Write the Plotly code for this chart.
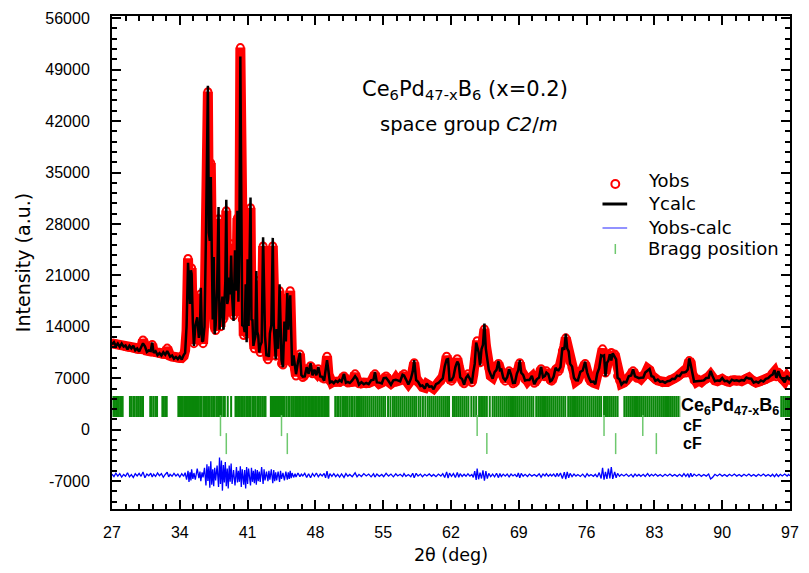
import plotly.graph_objects as go

# ---------------------------------------------------------------------------
# Powder pattern: 2-theta grid, observed intensity and refinement residual
# (Yobs - Ycalc); grouped in rows of ten.
# ---------------------------------------------------------------------------
two_theta = [
    27.0, 27.2, 27.4, 27.6, 27.8, 28.0, 28.2, 28.4, 28.6, 28.8,
    29.0, 29.2, 29.4, 29.6, 29.8, 30.0, 30.2, 30.4, 30.6, 30.8,
    31.0, 31.15, 31.3, 31.5, 31.7, 31.9, 32.1, 32.3, 32.5, 32.7,
    32.85, 33.0, 33.2, 33.4, 33.6, 33.8, 34.0, 34.2, 34.4, 34.55,
    34.7,
    34.85, 34.95, 35.05, 35.15, 35.22, 35.35, 35.46, 35.6, 35.8, 35.97,
    36.08, 36.17, 36.3, 36.4, 36.55, 36.7, 36.8, 36.9, 37.0, 37.1,
    37.2, 37.3, 37.4, 37.5, 37.6, 37.7, 37.85, 38.0, 38.1, 38.2,
    38.3, 38.4, 38.5, 38.6, 38.7, 38.8, 38.9, 39.0, 39.1, 39.2,
    39.3, 39.4, 39.55, 39.7, 39.85, 39.95, 40.05, 40.15, 40.25, 40.35,
    40.45, 40.6, 40.7, 40.8, 40.9, 41.0, 41.1, 41.3, 41.4, 41.5,
    41.6, 41.7, 41.8, 41.9, 42.0, 42.1, 42.2, 42.3, 42.45, 42.6,
    42.7, 42.8, 42.95, 43.1, 43.2, 43.3, 43.45, 43.6, 43.7, 43.8,
    43.9, 44.0, 44.15, 44.3, 44.4, 44.5, 44.65, 44.8, 44.95, 45.1,
    45.2, 45.3, 45.4, 45.5, 45.6, 45.75, 45.9, 46.0, 46.2, 46.4,
    46.55, 46.7,
    46.9, 47.1, 47.3, 47.5, 47.7, 47.9, 48.1, 48.3, 48.5, 48.7,
    48.9, 49.05, 49.2, 49.35, 49.5, 49.7, 49.9, 50.1, 50.3, 50.5,
    50.7, 50.95, 51.15, 51.35, 51.55, 51.8, 52.1, 52.3, 52.5, 52.75,
    53.0, 53.25, 53.5, 53.75, 54.0, 54.15, 54.35, 54.6, 54.85, 55.05,
    55.3, 55.55, 55.8, 56.05, 56.3, 56.5, 56.75, 57.0, 57.15, 57.35,
    57.6, 57.85, 58.05, 58.2, 58.4, 58.6, 58.85, 59.05, 59.3, 59.5,
    59.75, 60.0, 60.2, 60.45, 60.7, 60.95, 61.15, 61.35, 61.55, 61.7,
    61.85, 62.05, 62.25, 62.45, 62.65, 62.8, 62.95, 63.15, 63.35, 63.55,
    63.75, 63.95, 64.15, 64.3, 64.45, 64.6, 64.7, 64.85, 65.0, 65.15,
    65.3, 65.45, 65.6, 65.75, 65.9, 66.1, 66.3, 66.5, 66.7, 66.9,
    67.05, 67.2, 67.4, 67.6, 67.8, 68.0, 68.2, 68.4, 68.6, 68.8,
    68.95, 69.1, 69.25, 69.45, 69.65, 69.9, 70.1, 70.35, 70.6, 70.85,
    71.1, 71.3, 71.5, 71.7, 71.85, 72.05, 72.25, 72.4, 72.6, 72.8,
    72.95, 73.1, 73.3, 73.5, 73.7, 73.85, 74.0, 74.15, 74.3, 74.5,
    74.7, 74.9, 75.1, 75.35, 75.6, 75.85, 76.05, 76.25, 76.45, 76.7,
    76.9, 77.1, 77.3, 77.5, 77.65, 77.8, 77.95, 78.1, 78.25, 78.4,
    78.55, 78.7, 78.9, 79.05, 79.2, 79.4, 79.6, 79.85, 80.1, 80.35,
    80.6, 80.8, 81.0, 81.2, 81.4, 81.6, 81.85, 82.05, 82.3, 82.5,
    82.7, 82.9, 83.1, 83.35, 83.6, 83.85, 84.1, 84.35, 84.6, 84.85,
    85.1, 85.35, 85.6, 85.85, 86.05, 86.25, 86.45, 86.6, 86.75, 86.9,
    87.1, 87.35, 87.6, 87.85, 88.1, 88.35, 88.6, 88.8, 89.0, 89.25,
    89.5, 89.75, 90.0, 90.25, 90.5, 90.75, 91.0, 91.25, 91.5, 91.75,
    92.0, 92.25, 92.5, 92.75, 93.0, 93.25, 93.5, 93.75, 94.0, 94.25,
    94.5, 94.75, 95.0, 95.2, 95.4, 95.6, 95.8, 96.0, 96.2, 96.45,
    96.7, 96.85, 97.0,
]

y_obs = [
    11750, 11700, 11650, 11600, 11500, 11450, 11400, 11300, 11250, 11200,
    11150, 11100, 11000, 10950, 10900, 11000, 12200, 11000, 10750, 10700,
    11000, 11600, 10600, 10500, 10450, 10350, 10300, 10250, 10300, 11100,
    10150, 10050, 9950, 9900, 9800, 9750, 9700, 9750, 10000, 10800,
    13500,
    23300, 19000, 17500, 21000, 22000, 14000, 11700, 13500, 16200, 12100,
    14000, 18500, 12500, 11700, 15000, 25000, 38000, 46000, 28000, 24000,
    36300, 18000, 15800, 22000, 14000, 13500, 20500, 28700, 16000, 14000,
    19000, 16000, 15000, 17000, 22000, 29800, 18000, 16000, 22000, 17500,
    25300, 17000, 15500, 23000, 20000, 28800, 18000, 24000, 52000, 30000,
    15000, 12800, 14000, 18000, 13000, 22000, 15000, 30200, 16000, 14000,
    12000, 11000, 13500, 20300, 14000, 12000, 11000, 10500, 13000, 25000,
    18000, 12000, 10500, 9500, 10500, 12500, 15000, 25000, 15000, 11000,
    10000, 13000, 11500, 18900, 13500, 9000, 8800, 14000, 12500, 18000,
    14000, 16500, 18900, 13000, 9000, 9800, 8200, 7300, 9500, 10300,
    7600, 7100,
    7500, 8200, 7800, 8700, 7600, 8000, 7700, 8300, 7400, 7100,
    6900, 8000, 10000, 7500, 6600, 6400, 6550, 6450, 6600, 6500,
    6700, 7300, 6600, 6350, 6450, 6500, 7600, 6700, 6250, 6300,
    6400, 6250, 6350, 6500, 7000, 7600, 6600, 6250, 6400, 6800,
    7300, 6500, 6250, 6500, 7000, 6600, 6700, 7300, 7600, 6700,
    6250, 6700, 8200, 9100, 7000, 6400, 6100, 5800, 5700, 6200,
    6000, 5750, 5600, 6000, 6500, 6600, 7200, 8300, 10000, 9200,
    7000, 6600, 7400, 8200, 9650, 8600, 7300, 6700, 6250, 6900,
    7600, 6800, 6400, 7500, 9500, 11200, 12100, 10000, 9100, 10500,
    12200, 13700, 11500, 9000, 8400, 7300, 7100, 7600, 8400, 9000,
    8300, 8000, 7200, 6600, 7300, 8000, 7600, 6250, 6500, 7400,
    8400, 9100, 8000, 7300, 6800, 6600, 6900, 7200, 6300, 6700,
    7300, 8300, 7300, 7200, 8000, 7400, 6700, 6600, 7400, 8200,
    8400, 7900, 8800, 10700, 11300, 12500, 11500, 10300, 9200, 8400,
    7200, 6600, 6800, 7700, 8200, 9000, 8000, 6900, 6600, 6400,
    6300, 7400, 8700, 9650, 11000, 9500, 7700, 8600, 10300, 9800,
    10500, 9900, 10300, 9200, 7300, 6700, 6250, 6400, 6600, 7100,
    7500, 8000, 7400, 7000, 7100, 6900, 7200, 7600, 8300, 8100,
    7400, 7100, 6800, 6700, 6600, 6400, 6500, 6500, 6800, 6800,
    7000, 7200, 7400, 7600, 8000, 7700, 8400, 9400, 9100, 7600,
    6700, 6500, 6700, 6500, 6800, 6900, 7200, 7500, 7000, 6700,
    6600, 6800, 6900, 6700, 6500, 6500, 6700, 6800, 6600, 6700,
    6600, 6800, 7000, 7100, 6800, 6500, 6400, 6500, 6600, 6700,
    6800, 7100, 7200, 7600, 7900, 7200, 7800, 7300, 6800, 6600,
    7200, 7000, 6700,
]

residual = [
    150, -200, 280, -120, 220, -260, 100, -150, 340, -220,
    80, -320, 200, -100, 260, -150, 450, -350, 170, -80,
    280, -250, 150, -170, 300, -60, 220, -280, 100, 400,
    -220, 120, -150, 240, -100, 150, -250, 200, -150, 350,
    -600,
    600, -900, 400, -700, 800, -500, 300, -600, 900, -400,
    500, -800, 400, -300, 1000, -1400, 1500, -800, 1200, -1700,
    1900, -1300, 800, -1500, 1000, -700, 1300, -1600, 2400, -1200,
    2000, -2100, 1400, -1000, 1800, -1500, 900, -1800, 1300, -900,
    1600, -1200, 700, -1400, 1100, -1000, 600, -900, 1200, -1600,
    800, -1300, 700, -1800, 1100, -1200, 900, -1400, 1000, -900,
    600, -1100, 800, -1300, 700, -800, 500, -900, 1100, -1200,
    800, -700, 500, -800, 600, -600, 800, -1100, 700, -800,
    400, -700, 500, -900, 600, -500, 300, -700, 500, -600,
    400, -500, 600, -400, 300, -300, 200, -250, 300, -200,
    150, -100,
    250, -300, 200, -350, 220, -150, 300, -220, 150, -100,
    250, -350, 550, -450, 200, -150, 220, -200, 120, -250,
    170, -300, 220, -150, 100, -200, 320, -220, 120, -170,
    220, -100, 150, -220, 200, -250, 170, -150, 100, -200,
    250, -120, 150, -220, 200, -100, 120, -170, 220, -150,
    100, -200, 270, -350, 250, -120, 150, -220, 120, -100,
    170, -150, 100, -200, 150, -120, 220, -300, 450, -400,
    270, -150, 220, -300, 380, -270, 200, -170, 120, -150,
    200, -120, 100, -300, 550, -650, 900, -550, 350, -450,
    650, -750, 550, -450, 250, -200, 150, -220, 270, -330,
    220, -170, 150, -120, 170, -220, 150, -100, 120, -220,
    300, -350, 250, -150, 120, -170, 150, -120, 100, -150,
    200, -270, 170, -100, 220, -150, 120, -100, 170, -220,
    270, -170, 300, -450, 420, -550, 450, -350, 250, -200,
    150, -120, 100, -170, 150, -250, 200, -120, 100, -150,
    120, -250, 350, -450, 1000, -600, 450, -500, 900, -450,
    1100, -500, 450, -350, 250, -150, 120, -100, 150, -170,
    120, -220, 150, -120, 100, -150, 120, -170, 220, -150,
    120, -100, 150, -120, 100, -170, 120, -100, 150, -120,
    100, -150, 120, -170, 220, -150, 200, -300, 270, -200,
    150, -100, 120, -150, 100, -120, 150, -500, -300, 120,
    -100, 150, -120, 100, -150, 120, -100, 150, -120, 100,
    -150, 120, -100, 150, -120, 100, -150, 120, -100, 150,
    -120, 100, -150, 120, -200, 150, -170, 120, -100, 150,
    -120, 100, -80,
]

assert len(two_theta) == len(y_obs) == len(residual)

DIFF_OFFSET = -6200  # baseline on which the difference curve is drawn

y_calc = [o - r for o, r in zip(y_obs, residual)]
y_diff = [r + DIFF_OFFSET for r in residual]

# ---------------------------------------------------------------------------
# Bragg reflection positions (2-theta) for each phase
# ---------------------------------------------------------------------------
bragg_main = [
    27.15, 27.3, 27.45, 27.6, 27.7, 27.85, 28.0, 28.1,
    28.85, 29.0, 29.2, 29.35, 29.55, 29.7, 29.9, 30.1, 30.2,
    30.95, 31.1, 31.3, 31.5, 31.65,
    32.2, 32.35, 32.5, 32.65,
    33.85, 33.95, 34.1, 34.2, 34.3, 34.45, 34.55, 34.7, 34.8, 34.95,
    35.05, 35.15, 35.25, 35.35, 35.45, 35.55, 35.65, 35.75, 35.85, 35.95,
    36.1, 36.25, 36.45, 36.6, 36.8, 36.95, 37.1, 37.3, 37.45, 37.6,
    37.8, 37.95, 38.15, 38.3, 38.5, 38.65, 38.95, 39.3,
    39.75, 39.9, 40.05, 40.2, 40.35, 40.5, 40.65, 40.85, 41.0, 41.15,
    41.3, 41.5, 41.65, 41.8, 42.0, 42.15, 42.3, 42.5, 42.7, 42.85,
    43.4, 43.5, 43.6, 43.7, 43.8, 43.9, 44.0, 44.1, 44.2, 44.3,
    44.4, 44.5, 44.6, 44.7, 44.8,
    45.0, 45.2, 45.35, 45.55, 45.7, 45.9, 46.05,
    46.2, 46.35, 46.5, 46.65, 46.8, 46.95, 47.1, 47.25, 47.4, 47.55,
    47.7, 47.85, 48.0, 48.15, 48.3, 48.45, 48.6, 48.75, 48.9, 49.05,
    49.2, 49.35,
    50.05, 50.25, 50.4, 50.6, 50.8, 50.95, 51.15, 51.3, 51.5, 51.7,
    51.85, 52.05, 52.25, 52.4,
    52.6, 52.8, 53.0, 53.2, 53.4, 53.6, 53.8, 54.0, 54.2, 54.4,
    54.6, 54.8, 55.0, 55.2, 55.5, 55.75, 56.0,
    56.2, 56.4, 56.6, 56.8, 57.0, 57.2, 57.4, 57.6, 57.8, 58.0,
    58.2, 58.4, 58.65, 58.85, 59.1, 59.35,
    59.6, 59.8, 60.0, 60.2, 60.4, 60.6, 60.8, 61.0, 61.2, 61.4,
    61.6, 61.8,
    62.2, 62.4, 62.6, 62.8, 63.0, 63.2, 63.4, 63.6, 63.8,
    64.1, 64.35, 64.6,
    64.9, 65.1, 65.3, 65.5, 65.7, 66.0, 66.3, 66.5, 66.7, 66.9,
    67.1, 67.3, 67.5, 67.7, 67.9, 68.1, 68.3, 68.5, 68.7, 68.9,
    69.1, 69.3, 69.5, 69.7, 69.9, 70.1, 70.3, 70.5,
    70.8, 71.0, 71.2, 71.4, 71.6, 71.8, 72.0, 72.2, 72.4, 72.6,
    72.8, 73.0, 73.2, 73.4, 73.6, 73.8,
    74.1, 74.3, 74.5, 74.7, 74.9, 75.1, 75.3, 75.5, 75.7, 75.9,
    76.1, 76.3, 76.5, 76.7, 76.9, 77.1, 77.3, 77.5,
    77.8, 78.0, 78.2, 78.4, 78.6, 78.8, 79.0, 79.2,
    79.9, 80.1, 80.3, 80.5, 80.7, 80.9, 81.1, 81.3, 81.5, 81.7,
    81.9, 82.1, 82.3, 82.5, 82.7, 82.9, 83.1, 83.3, 83.5, 83.7,
    83.9, 84.1, 84.3, 84.5, 84.7, 84.9, 85.1, 85.3, 85.5,
    85.8, 86.1, 86.4, 86.7, 87.0, 87.3, 87.6, 87.9, 88.2, 88.5,
    88.8, 89.1, 89.4, 89.7, 90.0, 90.3, 90.6, 90.9, 91.2, 91.5,
    91.8, 92.1, 92.4, 92.7, 93.0, 93.3, 93.6, 93.9, 94.2, 94.5,
    94.8, 95.1, 95.4,
    96.1, 96.3, 96.5, 96.7, 96.9,
]
bragg_cf1 = [38.2, 44.5, 64.7, 77.8, 81.8]
bragg_cf2 = [38.8, 45.1, 65.7, 79.0, 83.2]

# vertical level (intensity units) of each row of reflection markers
ROW_MAIN, ROW_CF1, ROW_CF2 = 3150, 550, -1900

x_ticks = [27, 34, 41, 48, 55, 62, 69, 76, 83, 90, 97]
y_ticks = [-7000, 0, 7000, 14000, 21000, 28000, 35000, 42000, 49000, 56000]

legend_labels = ["Yobs", "Ycalc", "Yobs-calc", "Bragg position"]

TICK_FONT = "Liberation Sans, Arial, Helvetica, sans-serif"
TEXT_FONT = "DejaVu Sans, Verdana, sans-serif"
RED = "rgb(255,0,0)"
BLUE = "rgb(0,0,255)"
GREEN_DARK = "rgb(10,135,10)"
GREEN_LIGHT = "rgb(110,200,110)"

W, H = 809, 573
M_L, M_R, M_T, M_B = 112, 10, 16, 64
PLOT_W, PLOT_H = W - M_L - M_R, H - M_T - M_B


def px_x(px):
    """Horizontal pixel position -> paper fraction."""
    return (px - M_L) / PLOT_W


def px_y(py):
    """Vertical pixel position (from top) -> paper fraction."""
    return (H - M_B - py) / PLOT_H


fig = go.Figure()

# observed points: thick red band plus circles at each point
fig.add_trace(go.Scatter(
    x=two_theta, y=y_obs, mode="lines",
    line=dict(color=RED, width=10),
    showlegend=False, hoverinfo="skip",
))
fig.add_trace(go.Scatter(
    x=two_theta, y=y_obs, mode="markers", name="Yobs",
    marker=dict(symbol="circle-open", size=7, color=RED,
                line=dict(width=2, color=RED)),
    showlegend=False,
))
# calculated profile
fig.add_trace(go.Scatter(
    x=two_theta, y=y_calc, mode="lines", name="Ycalc",
    line=dict(color="black", width=2.5), showlegend=False,
))
# difference curve
fig.add_trace(go.Scatter(
    x=two_theta, y=y_diff, mode="lines", name="Yobs-calc",
    line=dict(color=BLUE, width=1.3), showlegend=False,
))
# Bragg reflection markers
fig.add_trace(go.Scatter(
    x=bragg_main, y=[ROW_MAIN] * len(bragg_main), mode="markers",
    marker=dict(symbol="line-ns", size=15,
                line=dict(width=2, color=GREEN_DARK)),
    showlegend=False, hoverinfo="x",
))
for pos, row in ((bragg_cf1, ROW_CF1), (bragg_cf2, ROW_CF2)):
    fig.add_trace(go.Scatter(
        x=pos, y=[row] * len(pos), mode="markers",
        marker=dict(symbol="line-ns", size=15,
                    line=dict(width=1.5, color=GREEN_LIGHT)),
        showlegend=False, hoverinfo="x",
    ))

axis_common = dict(
    showline=True, linecolor="black", linewidth=2, mirror="allticks",
    ticks="inside", ticklen=9, tickwidth=2, tickcolor="black",
    showgrid=False, zeroline=False,
    tickfont=dict(family=TICK_FONT, size=16, color="black"),
)

fig.update_xaxes(
    range=[27, 97], tickmode="array", tickvals=x_ticks,
    ticktext=[str(v) for v in x_ticks],
    ticklabelstandoff=8,
    minor=dict(ticks="inside", ticklen=5, tickwidth=1.5, tickcolor="black",
               tick0=27, dtick=1.4),
    title=dict(text="2θ (deg)",
               font=dict(family=TEXT_FONT, size=17.5, color="black"),
               standoff=9),
    **axis_common,
)
fig.update_yaxes(
    range=[-10800, 56300], tickmode="array", tickvals=y_ticks,
    ticktext=[str(v) for v in y_ticks],
    ticklabelstandoff=17,
    minor=dict(ticks="inside", ticklen=5, tickwidth=1.5, tickcolor="black",
               tick0=0, dtick=1400),
    title=dict(text="Intensity (a.u.)",
               font=dict(family=TEXT_FONT, size=19, color="black"),
               standoff=10),
    **axis_common,
)

phase_font = dict(family=TICK_FONT, size=18, color="black", weight="bold")
cf_font = dict(family=TICK_FONT, size=16, color="black", weight="bold")
annotations = [
    dict(x=px_x(470), y=px_y(90), xref="paper", yref="paper",
         xanchor="center", yanchor="middle", showarrow=False,
         text="Ce<sub>6</sub>Pd<sub>47-x</sub>B<sub>6</sub> (x=0.2)",
         font=dict(family=TEXT_FONT, size=21, color="black")),
    dict(x=px_x(474), y=px_y(124), xref="paper", yref="paper",
         xanchor="center", yanchor="middle", showarrow=False,
         text="space group <i>C2</i>/<i>m</i>",
         font=dict(family=TEXT_FONT, size=19.5, color="black")),
    dict(x=85.6, y=ROW_MAIN, xref="x", yref="y", xanchor="left",
         yanchor="middle", showarrow=False, bgcolor="white", borderpad=0,
         text="Ce<sub>6</sub>Pd<sub>47-x</sub>B<sub>6</sub>", font=phase_font),
    dict(x=85.8, y=ROW_CF1, xref="x", yref="y", xanchor="left",
         yanchor="middle", showarrow=False, borderpad=0,
         text="cF", font=cf_font),
    dict(x=85.8, y=ROW_CF2, xref="x", yref="y", xanchor="left",
         yanchor="middle", showarrow=False, borderpad=0,
         text="cF", font=cf_font),
]

# key: symbols drawn as shapes, labels as text
key_text_y = [180, 203, 227, 249]
for label, ty in zip(legend_labels, key_text_y):
    annotations.append(dict(
        x=px_x(653), y=px_y(ty), xref="paper", yref="paper",
        xanchor="left", yanchor="middle", showarrow=False, text=label,
        font=dict(family=TEXT_FONT, size=18, color="black"),
    ))

shapes = [
    dict(type="circle", xref="paper", yref="paper",
         x0=px_x(618), x1=px_x(626), y0=px_y(188), y1=px_y(180),
         line=dict(color=RED, width=2)),
    dict(type="line", xref="paper", yref="paper",
         x0=px_x(609), x1=px_x(634), y0=px_y(204), y1=px_y(204),
         line=dict(color="black", width=3)),
    dict(type="line", xref="paper", yref="paper",
         x0=px_x(609), x1=px_x(634), y0=px_y(228), y1=px_y(228),
         line=dict(color="rgb(110,110,255)", width=1.5)),
    dict(type="line", xref="paper", yref="paper",
         x0=px_x(622), x1=px_x(622), y0=px_y(254), y1=px_y(244),
         line=dict(color=GREEN_LIGHT, width=1.5)),
]

fig.update_layout(
    width=W, height=H,
    margin=dict(l=M_L, r=M_R, t=M_T, b=M_B),
    paper_bgcolor="white", plot_bgcolor="white",
    font=dict(family=TICK_FONT, color="black"),
    showlegend=False,
    annotations=annotations,
    shapes=shapes,
)

fig.write_html("out.html")
